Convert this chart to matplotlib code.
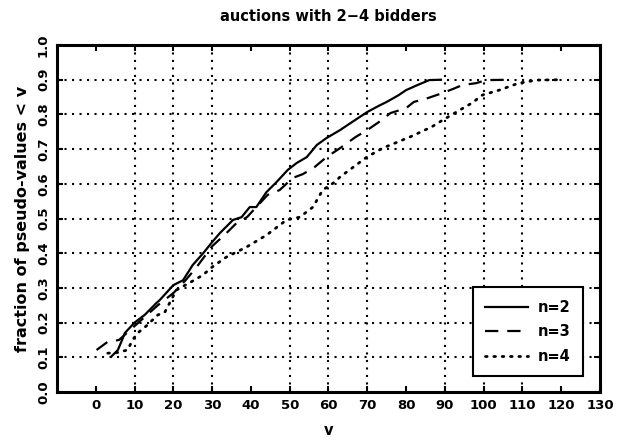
import matplotlib
matplotlib.use("Agg")
import matplotlib.pyplot as plt

v2 = [4, 5.7, 6.6, 7.5, 10, 12.6, 15.6, 16.5, 20, 22.5, 25, 27.7, 30, 32, 35.4, 37.6,
      39.7, 41.4, 44, 46.6, 49.5, 51.8, 54.4, 57, 59.5, 63, 65, 70, 73, 75, 78, 80,
      83, 86, 89]
f2 = [0.102, 0.121, 0.145, 0.17, 0.20, 0.222, 0.256, 0.265, 0.308, 0.322, 0.366, 0.40,
      0.432, 0.458, 0.496, 0.504, 0.533, 0.533, 0.576, 0.605, 0.64, 0.66, 0.677, 0.712,
      0.732, 0.755, 0.77, 0.807, 0.825, 0.836, 0.855, 0.87, 0.885, 0.899, 0.90]

v3 = [0.2, 3, 6, 10, 13, 16, 20, 23, 26, 30, 33.7, 36.3, 39, 41.4, 44.3, 47.4, 50.8,
      53.4, 56.4, 59.5, 63, 67, 70, 73, 76, 80, 82, 85.6, 89.5, 92, 94.6, 98, 100.7, 107]
f3 = [0.121, 0.144, 0.15, 0.19, 0.22, 0.25, 0.285, 0.32, 0.36, 0.42, 0.458, 0.487,
      0.504, 0.533, 0.568, 0.582, 0.617, 0.628, 0.648, 0.677, 0.703, 0.735, 0.755, 0.778,
      0.804, 0.818, 0.836, 0.847, 0.862, 0.873, 0.885, 0.89, 0.899, 0.90]

v4 = [3.1, 4.9, 8.2, 9.5, 10.8, 13, 16, 17.8, 20.8, 24.7, 27.6, 30, 33.7, 38.9, 44,
      49.2, 52.6, 56, 58.5, 61.6, 63, 70, 74, 81, 86.6, 89.5, 93, 97, 99.7, 104, 109,
      113.7, 119.6]
f4 = [0.112, 0.112, 0.121, 0.15, 0.17, 0.19, 0.222, 0.23, 0.294, 0.318, 0.337, 0.36,
      0.389, 0.418, 0.452, 0.496, 0.504, 0.533, 0.582, 0.605, 0.62, 0.678, 0.703, 0.735,
      0.764, 0.784, 0.807, 0.833, 0.856, 0.870, 0.89, 0.899, 0.90]

xticks = list(range(0, 131, 10))
yticks = [i / 10 for i in range(11)]
xgrid = [10, 20, 30, 50, 60, 70, 90, 100, 110]
ygrid = [i / 10 for i in range(1, 10)]

fig = plt.figure(figsize=(6.24, 4.46), dpi=100)
ax = fig.add_axes([0.0913, 0.1211, 0.8702, 0.7779])

grid_kw = dict(color="black", linewidth=1.5, linestyle=(0, (1, 2.6)), zorder=1)
for x in xgrid:
    ax.axvline(x, **grid_kw)
for y in ygrid:
    ax.axhline(y, **grid_kw)

ax.plot(v2, f2, color="black", linewidth=1.6, label="n=2", zorder=3)
ax.plot(v3, f3, color="black", linewidth=1.6, linestyle=(0, (6, 4)), label="n=3", zorder=3)
ax.plot(v4, f4, color="black", linewidth=2.0, linestyle=(0, (0.6, 2.4)),
        dash_capstyle="round", label="n=4", zorder=3)

ax.set_xlim(-10, 130)
ax.set_ylim(0, 1)
ax.set_xticks(xticks)
ax.set_yticks(yticks)
ax.set_xticklabels([str(t) for t in xticks], fontsize=9.5, fontweight="bold")
ax.set_yticklabels(["%.1f" % t for t in yticks], fontsize=9.5, fontweight="bold",
                   rotation=90, va="center")
ax.tick_params(direction="in", length=4, width=1.5, top=True, right=True, pad=5)

for s in ax.spines.values():
    s.set_linewidth(2.2)

ax.set_xlabel("v", fontsize=10.5, fontweight="bold", labelpad=8)
ax.set_ylabel("fraction of pseudo-values < v", fontsize=11.5, fontweight="bold", labelpad=5)
ax.set_title("auctions with 2\u22124 bidders", fontsize=10.5, fontweight="bold", pad=17)

leg = ax.legend(loc="lower right", bbox_to_anchor=(0.969, 0.046), borderaxespad=0,
                fancybox=False, framealpha=1, edgecolor="black", handlelength=2.9,
                prop={"size": 10.5, "weight": "bold"}, labelspacing=0.65,
                borderpad=0.85, handletextpad=0.7)
leg.get_frame().set_linewidth(1.5)

fig.savefig("out.png", dpi=100)
